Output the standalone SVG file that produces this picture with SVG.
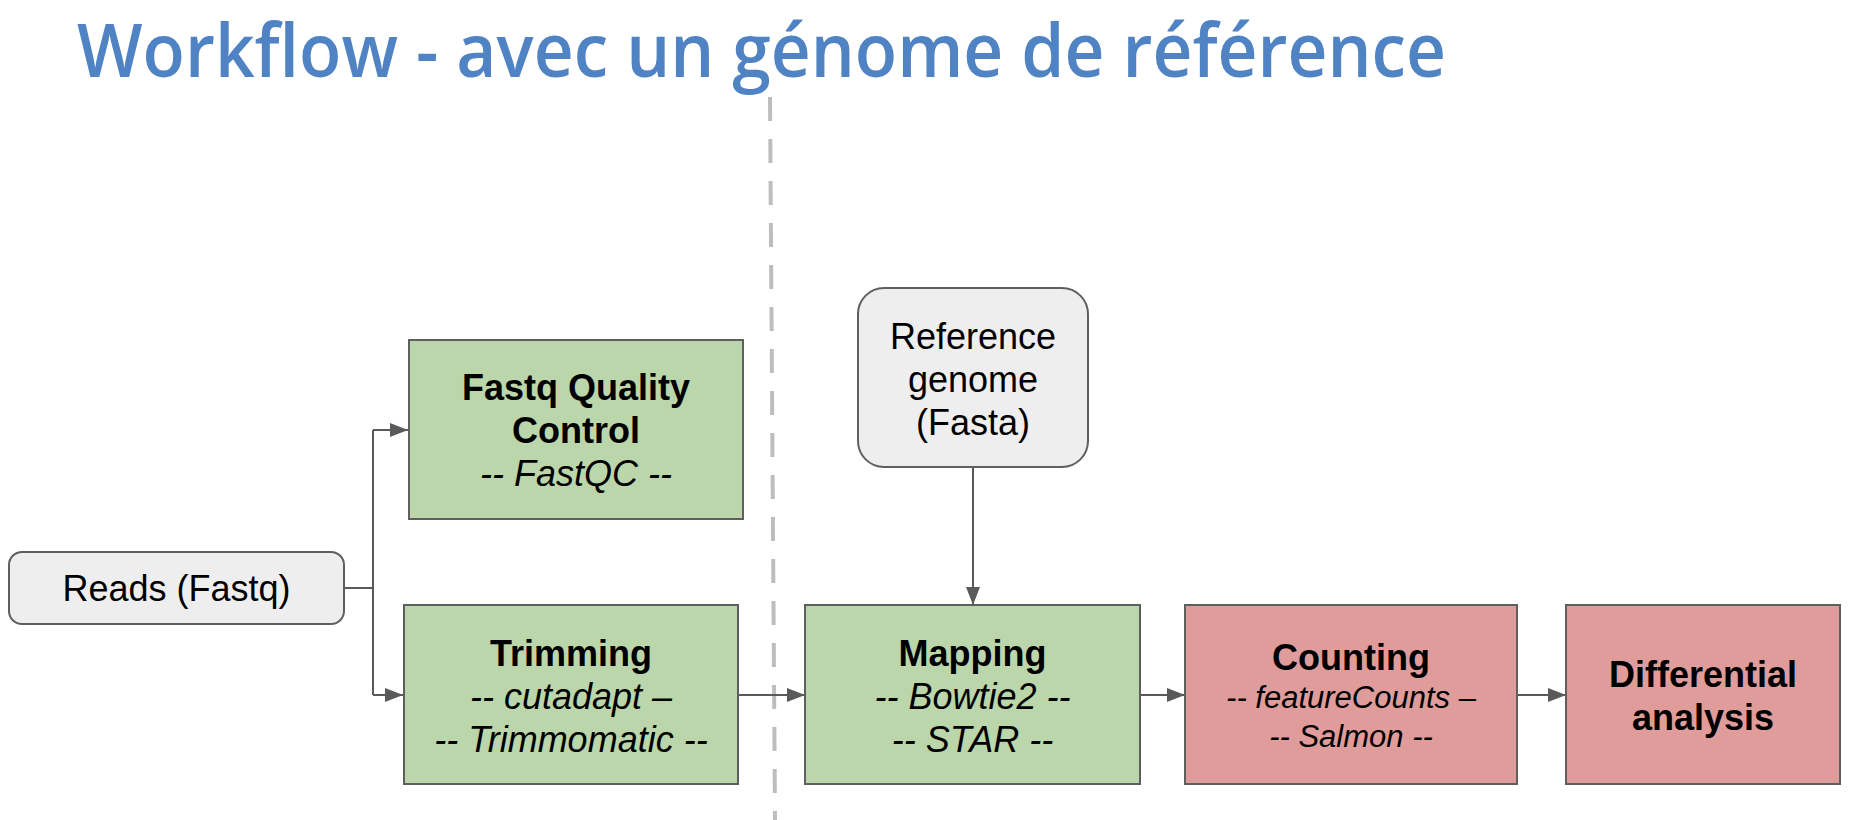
<svg xmlns="http://www.w3.org/2000/svg" width="1868" height="820" viewBox="0 0 1868 820">
<style>
.title{font-family:"Open Sans","Noto Sans",sans-serif;font-size:75px;font-weight:600;fill:#4f83c3}
.t{font-family:"Liberation Sans",Arial,sans-serif;font-size:36px;fill:#000;text-anchor:middle}
.b{font-weight:bold}
.i{font-style:italic}
.s{font-size:31px}
.green{fill:#bbd6ab;stroke:#5f5f5f;stroke-width:2}
.red{fill:#df9c9b;stroke:#5f5f5f;stroke-width:2}
.gray{fill:#eeeeee;stroke:#5f5f5f;stroke-width:2}
.c{fill:none;stroke:#5a5a5a;stroke-width:2}
</style>
<defs>
<marker id="ah" markerWidth="18" markerHeight="14" refX="18" refY="7" orient="auto" markerUnits="userSpaceOnUse">
<path d="M0,0 L18,7 L0,14 Z" fill="#5a5a5a"/>
</marker>
</defs>
<rect width="1868" height="820" fill="#ffffff"/>
<text class="title" x="77" y="77" textLength="1369" lengthAdjust="spacingAndGlyphs">Workflow - avec un génome de référence</text>
<line x1="770" y1="97" x2="775" y2="820" stroke="#bdbdbd" stroke-width="4" stroke-dasharray="24,18"/>
<g id="connectors">
<path class="c" d="M344,588 H373 M373,430 V695"/>
<path class="c" d="M373,430 H408" marker-end="url(#ah)"/>
<path class="c" d="M373,695 H403" marker-end="url(#ah)"/>
<path class="c" d="M738,695 H805" marker-end="url(#ah)"/>
<path class="c" d="M973,467 V605" marker-end="url(#ah)"/>
<path class="c" d="M1140,695 H1185" marker-end="url(#ah)"/>
<path class="c" d="M1517,695 H1566" marker-end="url(#ah)"/>
</g>
<g id="reads">
<rect class="gray" x="9" y="552" width="335" height="72" rx="13"/>
<text class="t" x="176.5" y="601">Reads (Fastq)</text>
</g>
<g id="qc">
<rect class="green" x="409" y="340" width="334" height="179"/>
<text class="t b" x="576" y="400">Fastq Quality</text>
<text class="t b" x="576" y="443">Control</text>
<text class="t i" x="576" y="486">-- FastQC --</text>
</g>
<g id="trimming">
<rect class="green" x="404" y="605" width="334" height="179"/>
<text class="t b" x="571" y="666">Trimming</text>
<text class="t i" x="571" y="709">-- cutadapt –</text>
<text class="t i" x="571" y="752">-- Trimmomatic --</text>
</g>
<g id="reference">
<rect class="gray" x="858" y="288" width="230" height="179" rx="26"/>
<text class="t" x="973" y="349">Reference</text>
<text class="t" x="973" y="392">genome</text>
<text class="t" x="973" y="435">(Fasta)</text>
</g>
<g id="mapping">
<rect class="green" x="805" y="605" width="335" height="179"/>
<text class="t b" x="972.5" y="666">Mapping</text>
<text class="t i" x="972.5" y="709">-- Bowtie2 --</text>
<text class="t i" x="972.5" y="752">-- STAR --</text>
</g>
<g id="counting">
<rect class="red" x="1185" y="605" width="332" height="179"/>
<text class="t b" x="1351" y="670">Counting</text>
<text class="t i s" x="1351" y="708">-- featureCounts –</text>
<text class="t i s" x="1351" y="747">-- Salmon --</text>
</g>
<g id="differential">
<rect class="red" x="1566" y="605" width="274" height="179"/>
<text class="t b" x="1703" y="687">Differential</text>
<text class="t b" x="1703" y="730">analysis</text>
</g>
</svg>
